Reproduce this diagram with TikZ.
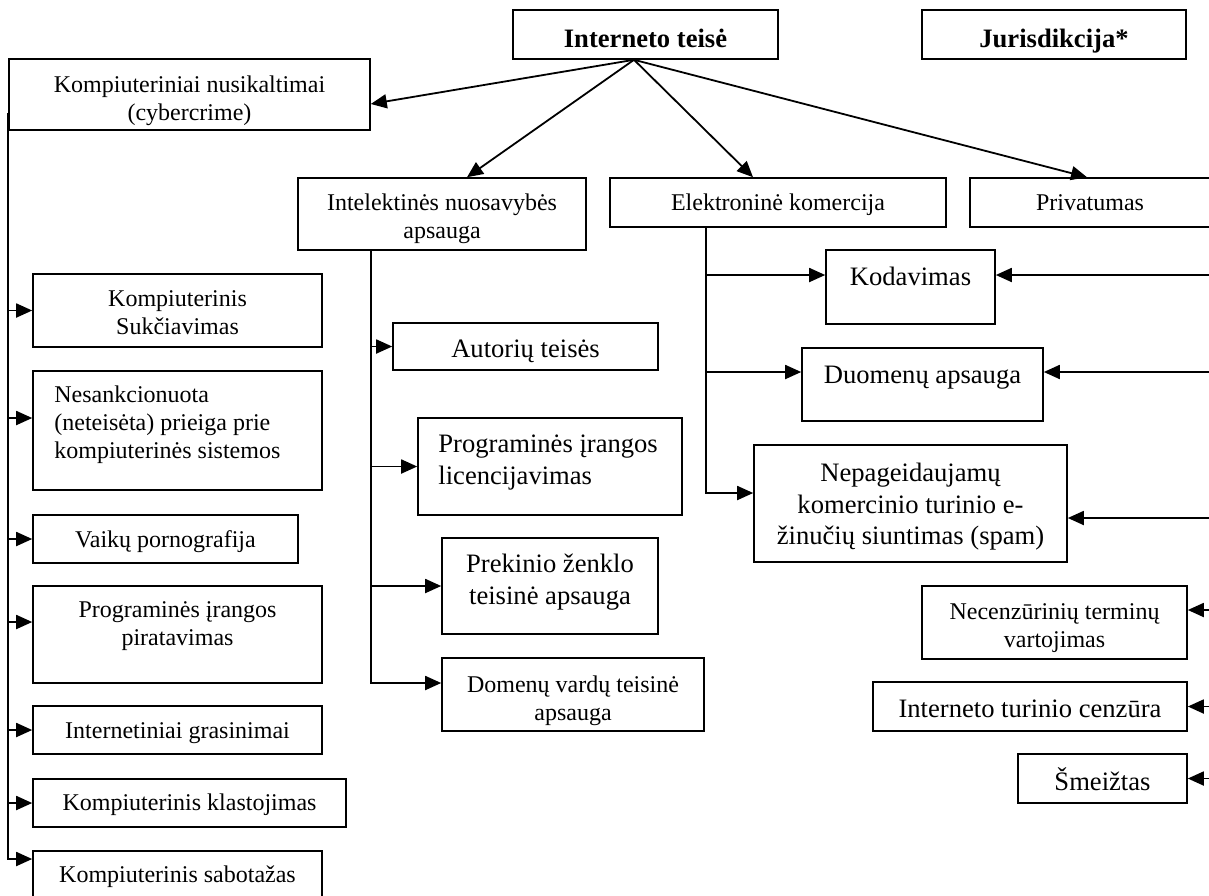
\documentclass[tikz,border=0pt]{standalone}
\usepackage{fontspec}
\setmainfont{Liberation Serif}
\usetikzlibrary{arrows.meta,fit}

\begin{document}
\begin{tikzpicture}[
				x=0.5pt,y=-0.5pt,
				box/.style={draw,rectangle,line width=0.8pt,inner sep=0pt},
				stxt/.style={inner sep=0pt,align=center,font=\fontsize{12}{14}\selectfont},
				ltxt/.style={inner sep=0pt,align=center,font=\fontsize{13.3}{15.7}\selectfont},
				btxt/.style={inner sep=0pt,font=\fontsize{13.3}{15.7}\selectfont\bfseries},
				arr/.style={-{Triangle[length=8pt,width=7pt]},line width=0.9pt}
				]
				\useasboundingbox (0,0) rectangle (1209,895);
				\clip (0,0) rectangle (1209,895);
				
				% Pagrindinės temos
				\node[box,fit={(513,10) (778,59)}] (intbox) {};
				\node[btxt,anchor=base] (intT) at (645.5,47) {Interneto teisė};
				\node[box,fit={(922,10) (1186,59)}] (jurbox) {};
				\node[btxt,anchor=base] (jurT) at (1054,47) {Jurisdikcija*};
				
				\node[box,fit={(9,59) (370,130)}] (kompbox) {};
				\node[stxt,anchor=north] (kompT) at (189.5,75.6) {Kompiuteriniai nusikaltimai\\(cybercrime)};
				\node[box,fit={(298,178) (586,250)}] (ipbox) {};
				\node[stxt,anchor=north] (ipT) at (442,193.6) {Intelektinės nuosavybės\\apsauga};
				\node[box,fit={(610,178) (946,227)}] (ekbox) {};
				\node[stxt,anchor=base] (ekT) at (778,210) {Elektroninė komercija};
				\node[box,fit={(970,178) (1214,227)}] (privbox) {};
				\node[stxt,anchor=base] (privT) at (1090,210) {Privatumas};
				
				% Kompiuteriniai nusikaltimai
				\node[box,fit={(33,274) (322,347)}] (sukbox) {};
				\node[stxt,anchor=north] (sukT) at (177.5,290.6) {Kompiuterinis\\Sukčiavimas};
				\node[box,fit={(33,371) (322,490)}] (nesbox) {};
				\node[stxt,align=left,anchor=north west] (nesT) at (54,385.6) {Nesankcionuota\\(neteisėta) prieiga prie\\kompiuterinės sistemos};
				\node[box,fit={(33,515) (298,563)}] (vaikbox) {};
				\node[stxt,anchor=base] (vaikT) at (165.5,547) {Vaikų pornografija};
				\node[box,fit={(33,586) (322,683)}] (pirbox) {};
				\node[stxt,anchor=north] (pirT) at (177.5,601.6) {Programinės įrangos\\piratavimas};
				\node[box,fit={(33,706) (322,754)}] (grasbox) {};
				\node[stxt,anchor=base] (grasT) at (177.5,738) {Internetiniai grasinimai};
				\node[box,fit={(33,779) (346,827)}] (klasbox) {};
				\node[stxt,anchor=base] (klasT) at (189.5,810) {Kompiuterinis klastojimas};
				\node[box,fit={(33,851) (322,905)}] (sabbox) {};
				\node[stxt,anchor=base] (sabT) at (177.5,882) {Kompiuterinis sabotažas};
				
				% Intelektinė nuosavybė
				\node[box,fit={(393,323) (658,370)}] (autbox) {};
				\node[ltxt,anchor=base] (autT) at (525.5,357) {Autorių teisės};
				\node[box,fit={(418,418) (682,515)}] (licbox) {};
				\node[ltxt,align=left,anchor=north west] (licT) at (438,434.8) {Programinės įrangos\\licencijavimas};
				\node[box,fit={(442,538) (658,634)}] (prekbox) {};
				\node[ltxt,anchor=north] (prekT) at (550,553.8) {Prekinio ženklo\\teisinė apsauga};
				\node[box,fit={(442,658) (704,731)}] (dombox) {};
				\node[stxt,anchor=north] (domT) at (573,675.6) {Domenų vardų teisinė\\apsauga};
				
				% Elektroninė komercija ir privatumas
				\node[box,fit={(826,250) (995,324)}] (kodbox) {};
				\node[ltxt,anchor=base] (kodT) at (910.5,285.5) {Kodavimas};
				\node[box,fit={(802,348) (1043,421)}] (duobox) {};
				\node[ltxt,anchor=base] (duoT) at (922.5,383) {Duomenų apsauga};
				\node[box,fit={(754,445) (1067,562)}] (spambox) {};
				\node[ltxt,anchor=north] (spamT) at (910.5,462.8) {Nepageidaujamų\\komercinio turinio e-\\žinučių siuntimas (spam)};
				\node[box,fit={(922,586) (1187,659)}] (necbox) {};
				\node[stxt,anchor=north] (necT) at (1054.5,603.6) {Necenzūrinių terminų\\vartojimas};
				\node[box,fit={(873,682) (1187,731)}] (cenzbox) {};
				\node[ltxt,anchor=base] (cenzT) at (1030,717) {Interneto turinio cenzūra};
				\node[box,fit={(1018,754) (1187,803)}] (smbox) {};
				\node[ltxt,anchor=base] (smT) at (1102.5,790) {Šmeižtas};
				
				% Rodyklės nuo pagrindinės temos
				\draw[arr] ([xshift=-5.75pt]intbox.south) -- ([yshift=-4.75pt]kompbox.east);
				\draw[arr] ([xshift=-5.75pt]intbox.south) -- ([xshift=12.5pt]ipbox.north);
				\draw[arr] ([xshift=-5.75pt]intbox.south) -- ([xshift=-12.5pt]ekbox.north);
				\draw[arr] ([xshift=-5.75pt]intbox.south) -- ([xshift=-2.5pt]privbox.north);
				
				% Kairioji šaka
				\coordinate (ltop) at ([yshift=-9pt]kompbox.west);
				\coordinate (nesin) at ([yshift=6.25pt]nesbox.west);
				\coordinate (pirin) at ([yshift=6.25pt]pirbox.west);
				\coordinate (sabin) at ([yshift=9.5pt]sabbox.west);
				\draw[arr] (ltop) |- (sabin);
				\draw[arr] (ltop |- sukbox) -- (sukbox);
				\draw[arr] (ltop |- nesin) -- (nesin);
				\draw[arr] (ltop |- vaikbox) -- (vaikbox);
				\draw[arr] (ltop |- pirin) -- (pirin);
				\draw[arr] (ltop |- grasbox) -- (grasbox);
				\draw[arr] (ltop |- klasbox) -- (klasbox);
				
				% Vidurinė šaka
				\coordinate (mtop) at ([xshift=-35.5pt]ipbox.south);
				\coordinate (domin) at ([yshift=5.75pt]dombox.west);
				\draw[arr] (mtop) |- (domin);
				\draw[arr] (mtop |- autbox) -- (autbox);
				\draw[arr] (mtop |- licbox) -- (licbox);
				\draw[arr] (mtop |- prekbox) -- (prekbox);
				
				% Dešinioji šaka
				\coordinate (rtop) at ([xshift=-36pt]ekbox.south);
				\coordinate (kodin) at ([yshift=6pt]kodbox.west);
				\coordinate (duoin) at ([yshift=6.25pt]duobox.west);
				\coordinate (spamin) at ([yshift=5.25pt]spambox.west);
				\draw[arr] (rtop) |- (spamin);
				\draw[arr] (rtop |- kodin) -- (kodin);
				\draw[arr] (rtop |- duoin) -- (duoin);
				
				% Rodyklės iš dešinės
				\coordinate (redge) at (1215,0);
				\coordinate (kodout) at ([yshift=6pt]kodbox.east);
				\coordinate (duoout) at ([yshift=6.25pt]duobox.east);
				\coordinate (spamout) at ([yshift=-7.25pt]spambox.east);
				\coordinate (necout) at ([yshift=6.25pt]necbox.east);
				\draw[arr] (redge |- kodout) -- (kodout);
				\draw[arr] (redge |- duoout) -- (duoout);
				\draw[arr] (redge |- spamout) -- (spamout);
				\draw[arr] (redge |- necout) -- (necout);
				\draw[arr] (redge |- cenzbox) -- (cenzbox);
				\draw[arr] (redge |- smbox) -- (smbox);
				
\end{tikzpicture}
\end{document}
